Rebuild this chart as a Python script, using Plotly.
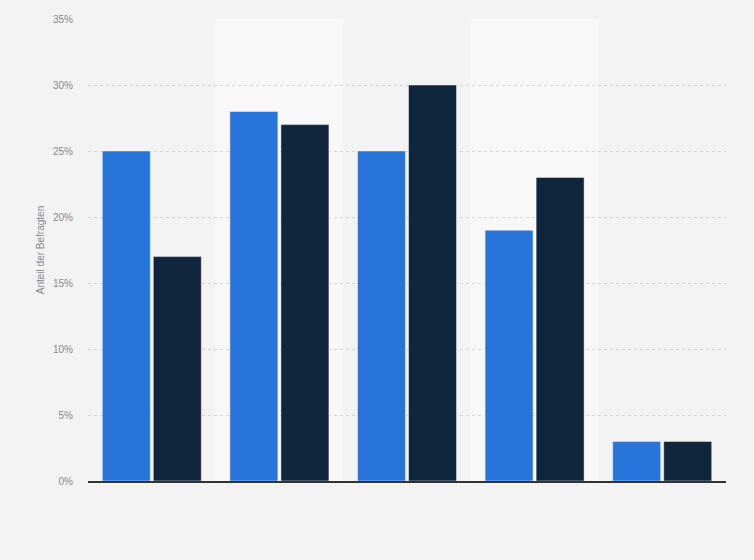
import plotly.graph_objects as go

categories = ["A", "B", "C", "D", "E"]
series_1 = [25, 28, 25, 19, 3]
series_2 = [17, 27, 30, 23, 3]
tick_vals = [0, 5, 10, 15, 20, 25, 30, 35]
tick_text = ["0%", "5%", "10%", "15%", "20%", "25%", "30%", "35%"]

fig = go.Figure()
fig.add_trace(go.Bar(x=categories, y=series_1, name="Serie 1",
                     marker=dict(color="#2775db", line=dict(color="rgba(255,255,255,0.45)", width=1))))
fig.add_trace(go.Bar(x=categories, y=series_2, name="Serie 2",
                     marker=dict(color="#10263d", line=dict(color="rgba(255,255,255,0.45)", width=1))))

# lighter background bands behind every second category
shapes = []
for i in range(len(categories)):
    if i % 2 == 1:
        shapes.append(dict(type="rect", xref="x", yref="paper", x0=i - 0.5, x1=i + 0.5,
                           y0=0, y1=1, fillcolor="#f8f8f8", line=dict(width=0), layer="below"))

fig.update_layout(
    width=754, height=560,
    margin=dict(l=88, r=28, t=19, b=79),
    paper_bgcolor="#f3f3f3", plot_bgcolor="#f3f3f3",
    font=dict(family="Liberation Sans, Arial, sans-serif", size=10, color="#888888"),
    barmode="group", bargap=0.2, bargroupgap=0.06,
    showlegend=False,
    shapes=shapes,
)
fig.update_xaxes(showticklabels=False, showgrid=False, showline=True, linecolor="#333333",
                 linewidth=1.5, ticks="", range=[-0.5, 4.5])
fig.update_yaxes(range=[0, 35], tickvals=tick_vals, ticktext=tick_text,
                 showgrid=True, gridcolor="#d4d4d4", griddash="dot", gridwidth=1,
                 zeroline=False, ticks="", ticklabelstandoff=14,
                 title=dict(text="Anteil der Befragten", font=dict(size=10, color="#888888"), standoff=6))

fig.write_html("out.html", config={"displayModeBar": False},
               post_script="document.body.style.margin='0';")
